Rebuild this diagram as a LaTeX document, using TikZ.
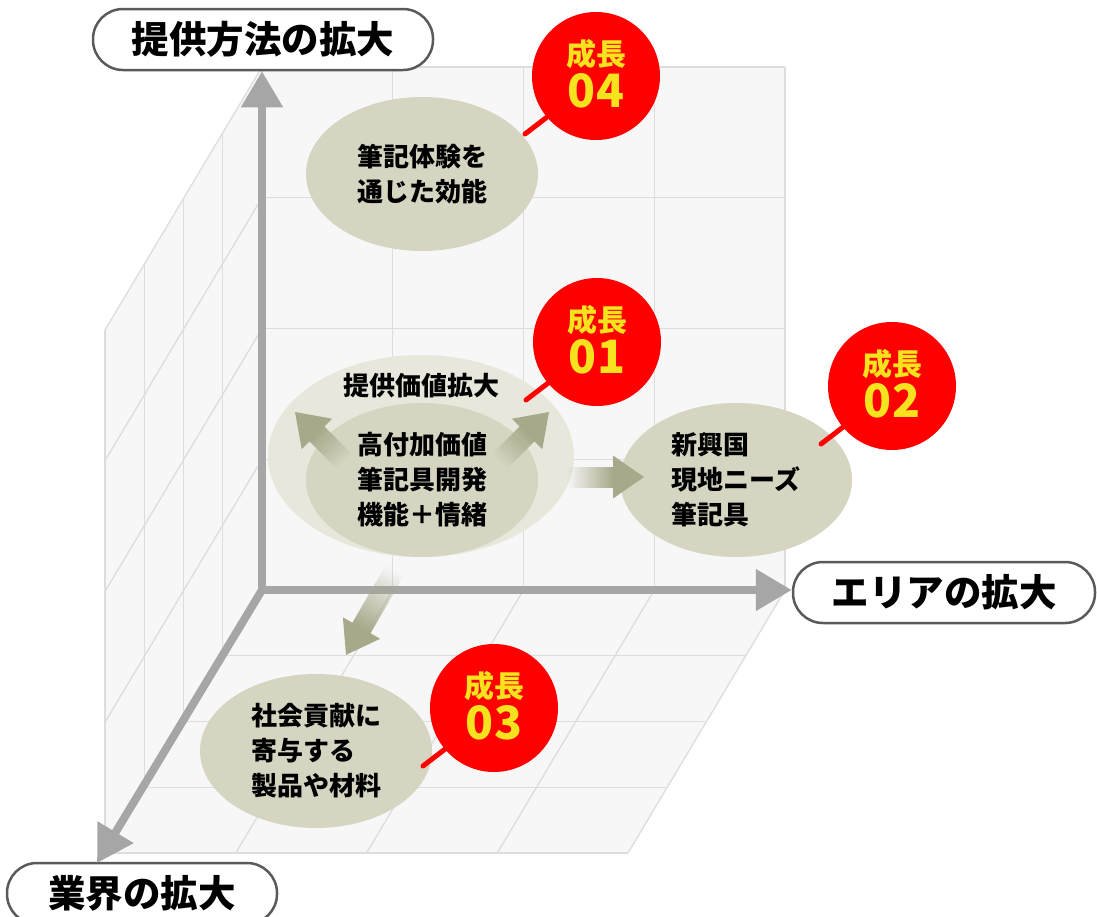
\documentclass[tikz,border=0pt]{standalone}
\usepackage{fontspec}
\newfontfamily\jp{Noto Sans CJK JP}
\usetikzlibrary{shapes.geometric,arrows.meta,fadings}
\definecolor{ellc}{HTML}{D5D5C1}
\definecolor{haloc}{HTML}{E7E7DC}
\definecolor{arrc}{HTML}{A8A88A}
\definecolor{axc}{HTML}{A6A6A6}
\definecolor{gridc}{HTML}{DDDDDD}
\definecolor{wallc}{HTML}{F7F7F7}
\definecolor{boxc}{HTML}{5A5A5A}
\definecolor{ylw}{HTML}{F7E31D}
\tikzfading[name=tailfade, left color=transparent!100, right color=transparent!0]
\newcommand{\fatarrow}[3]{%
  \begin{scope}[transform canvas={shift={(#1)},rotate=#2}]
    \fill[arrc, path fading=tailfade] (0,-10.5) rectangle ({#3-30.5},10.5);
    \fill[arrc] ({#3-31},-21.5) -- (#3,0) -- ({#3-31},21.5) -- cycle;
  \end{scope}}
\tikzset{
  gridline/.style={draw=gridc, line width=1.3pt},
  axis/.style={draw=axc, line width=8pt, -{Triangle[length=36pt,width=40pt]}},
  pill/.style={draw=boxc, line width=2.5pt, fill=white, rounded corners=30pt,
    inner sep=0pt, minimum height=61pt, font=\jp\bfseries\fontsize{37.5pt}{37.5pt}\selectfont},
  bub/.style={ellipse, fill=ellc, minimum width=232pt, minimum height=154pt,
    inner sep=0pt, align=left, font=\jp\bfseries\fontsize{26pt}{35pt}\selectfont},
  growcirc/.style={circle, fill=red, minimum size=128pt, inner sep=0pt},
  growtop/.style={text=ylw, inner sep=0pt, font=\jp\bfseries\fontsize{30pt}{30pt}\selectfont},
  grownum/.style={text=ylw, inner sep=0pt, font=\jp\bfseries\fontsize{46pt}{46pt}\selectfont},
  redline/.style={draw=red, line width=5pt, line cap=round}
}
\begin{document}
\begin{tikzpicture}[x=1pt,y=-1pt]
\useasboundingbox (0,0) rectangle (1097,916);
\fill[white] (0,0) rectangle (1097,916);
% walls
\fill[wallc] (262,67) rectangle (785,590);
\fill[wallc] (262,67) -- (262,590) -- (105,853) -- (105,330) -- cycle;
\fill[wallc] (262,590) -- (785,590) -- (628,853) -- (105,853) -- cycle;
% back wall grid
\foreach \k in {0,...,4} {
  \draw[gridline] ({262+130.75*\k},67) -- ({262+130.75*\k},590);
  \draw[gridline] (262,{67+130.75*\k}) -- (785,{67+130.75*\k});
}
% left wall grid
\foreach \k in {1,...,4} {
  \draw[gridline] ({262-39.25*\k},{67+65.75*\k}) -- ({262-39.25*\k},{590+65.75*\k});
}
\foreach \k in {0,...,4} {
  \draw[gridline] (262,{67+130.75*\k}) -- (105,{330+130.75*\k});
}
% floor grid
\foreach \k in {0,...,4} {
  \draw[gridline] ({262+130.75*\k},590) -- ({105+130.75*\k},853);
  \draw[gridline] ({262-39.25*\k},{590+65.75*\k}) -- ({785-39.25*\k},{590+65.75*\k});
}
% labels
\node[pill, minimum width=340pt] (lblV) at (263,39.5) {提供方法の拡大};
\node[pill, minimum width=302pt] (lblH) at (944,592.5) {エリアの拡大};
\node[pill, minimum width=270pt] (lblD) at (142,893.5) {業界の拡大};
% axes
\coordinate (O) at (262,590);
\coordinate (tipD) at (97,863);
\draw[axis, line cap=rect] (O) -- (O |- lblV.south);
\draw[axis, line cap=rect] (O) -- (O -| lblH.west);
\draw[axis, line cap=rect] (O) -- (tipD);
% bubbles
\node[ellipse, fill=haloc, minimum width=306pt, minimum height=202pt, inner sep=0pt] (halo) at (421,456) {};
\node[inner sep=0pt, font=\jp\bfseries\fontsize{26pt}{26pt}\selectfont] (t01) at (421,386) {提供価値拡大};
\node[bub] (e04) at (422,174) {筆記体験を\\通じた効能};
\node[bub] (e01) at (422,480) {高付加価値\\筆記具開発\\機能＋情緒};
\node[bub] (e02) at (736,480) {新興国\\現地ニーズ\\筆記具};
\node[bub] (e03) at (316,751) {社会貢献に\\寄与する\\製品や材料};
% fat arrows
\coordinate (aR) at (567,477);
\coordinate (aUL) at (344.5,461.5);
\coordinate (aUR) at (499.5,461.5);
\coordinate (aD) at (395,570);
\fatarrow{aR}{0}{77}
\fatarrow{aUL}{135}{70}
\fatarrow{aUR}{45}{70}
\fatarrow{aD}{240}{98}
% growth circles
\node[growcirc] (c04) at (596,76) {};
\node[growcirc] (c01) at (597,342) {};
\node[growcirc] (c02) at (892,386) {};
\node[growcirc] (c03) at (494,708) {};
\coordinate (p04) at (525,134);
\coordinate (p01) at (526,400);
\coordinate (p02) at (821,444);
\coordinate (p03) at (423,766);
\draw[redline] (c04.220) -- (p04);
\draw[redline] (c01.220) -- (p01);
\draw[redline] (c02.220) -- (p02);
\draw[redline] (c03.220) -- (p03);
\foreach \c/\n in {c04/04,c01/01,c02/02,c03/03} {
  \node[growtop] (\c a) at (\c) [yshift=22pt] {成長};
  \node[grownum] (\c b) at (\c) [yshift=-15pt] {\n};
}
\end{tikzpicture}
\end{document}
